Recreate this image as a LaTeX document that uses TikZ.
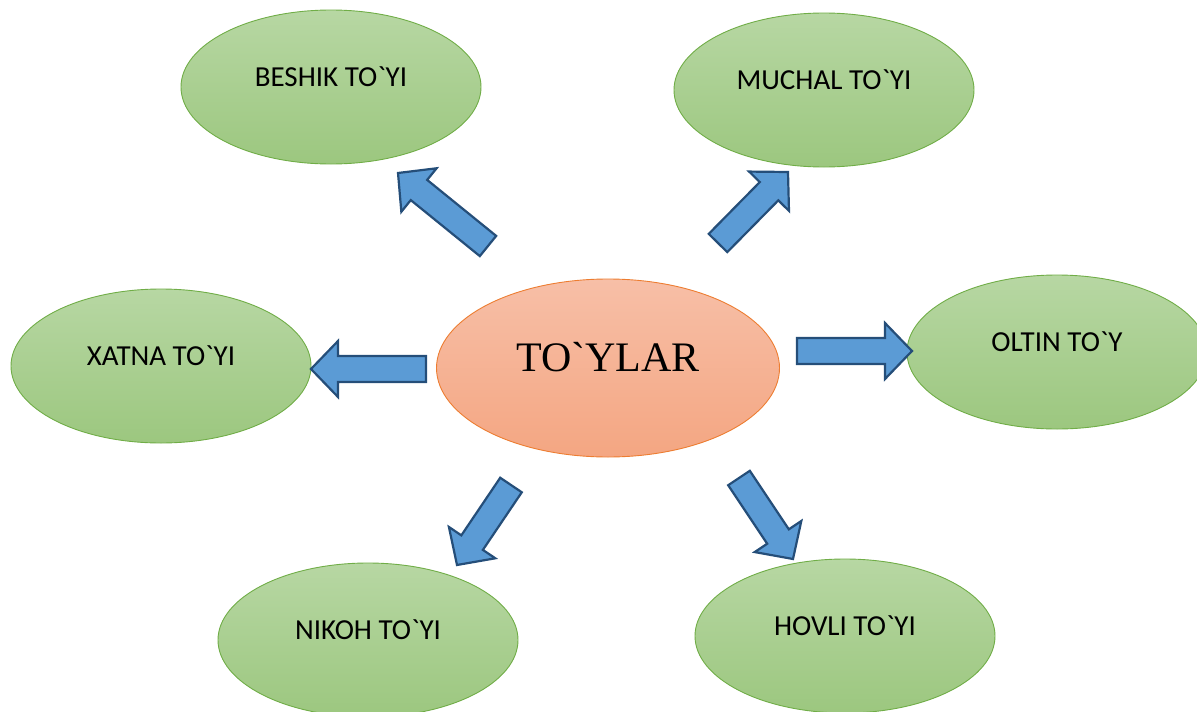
\documentclass[tikz,border=0pt]{standalone}
\usepackage{fontspec}
\newfontfamily\toyfont{Carlito}
\newfontfamily\hubfont{Liberation Serif}
\usetikzlibrary{shapes.geometric,calc}

\definecolor{leafline}{RGB}{112,173,71}
\definecolor{leaftop}{RGB}{183,215,163}
\definecolor{leafbot}{RGB}{156,199,127}
\definecolor{peachtop}{RGB}{247,191,167}
\definecolor{peachbot}{RGB}{244,166,130}
\definecolor{peachline}{RGB}{237,125,49}
\definecolor{arrowfill}{RGB}{91,155,213}
\definecolor{arrowline}{RGB}{37,78,121}

\tikzset{
  toy/.style={ellipse, draw=leafline, line width=0.9pt, top color=leaftop, bottom color=leafbot,
    minimum width=300pt, minimum height=154pt, inner sep=0pt,
    font=\toyfont\fontsize{29}{33}\selectfont, text height=18pt, text depth=20pt},
  hub/.style={ellipse, draw=peachline, line width=0.9pt, top color=peachtop, bottom color=peachbot,
    minimum width=343pt, minimum height=178pt, inner sep=0pt,
    font=\hubfont\fontsize{42}{46}\selectfont, text height=28pt, text depth=22pt},
  bigarrow/.style={fill=arrowfill, draw=arrowline, line width=2.2pt, line join=miter}
}

% block arrow from tail #1 to tip #2
\newcommand{\blockarrow}[2]{%
  \coordinate (neck) at ($(#2)!27pt!(#1)$);
  \filldraw[bigarrow] ($(#1)!13pt!90:(#2)$) -- ($(neck)!13pt!-90:(#1)$)
    -- ($(neck)!28pt!-90:(#1)$) -- (#2) -- ($(neck)!28pt!90:(#1)$)
    -- ($(neck)!13pt!90:(#1)$) -- ($(#1)!13pt!-90:(#2)$) -- cycle;}

\begin{document}
\begin{tikzpicture}[x=1pt, y=-1pt]                      % pixel units, y downwards
    \useasboundingbox (0,0) rectangle (1197,712);

    \node[hub] (toylar) at (608,368) {TO`YLAR};
    \node[toy] (beshik) at (331,87)  {BESHIK TO`YI};
    \node[toy] (muchal) at (824,90)  {MUCHAL TO`YI};
    \node[toy] (xatna)  at (161,366) {XATNA TO`YI};
    \node[toy] (oltin)  at (1057,352) {OLTIN TO`Y};
    \node[toy] (nikoh)  at (368,640) {NIKOH TO`YI};
    \node[toy] (hovli)  at (845,636) {HOVLI TO`YI};

    % tails and tips of the block arrows
    \coordinate (t1) at (488,246); \coordinate (p1) at (398,173);
    \coordinate (t2) at (718,243); \coordinate (p2) at (788,172);
    \coordinate (t3) at (426,369); \coordinate (p3) at (311,369);
    \coordinate (t4) at (797,351); \coordinate (p4) at (912,351);
    \coordinate (t5) at (511,485); \coordinate (p5) at (457,565);
    \coordinate (t6) at (739,478); \coordinate (p6) at (793,559);

    \blockarrow{t1}{p1}
    \blockarrow{t2}{p2}
    \blockarrow{t3}{p3}
    \blockarrow{t4}{p4}
    \blockarrow{t5}{p5}
    \blockarrow{t6}{p6}
\end{tikzpicture}
\end{document}
